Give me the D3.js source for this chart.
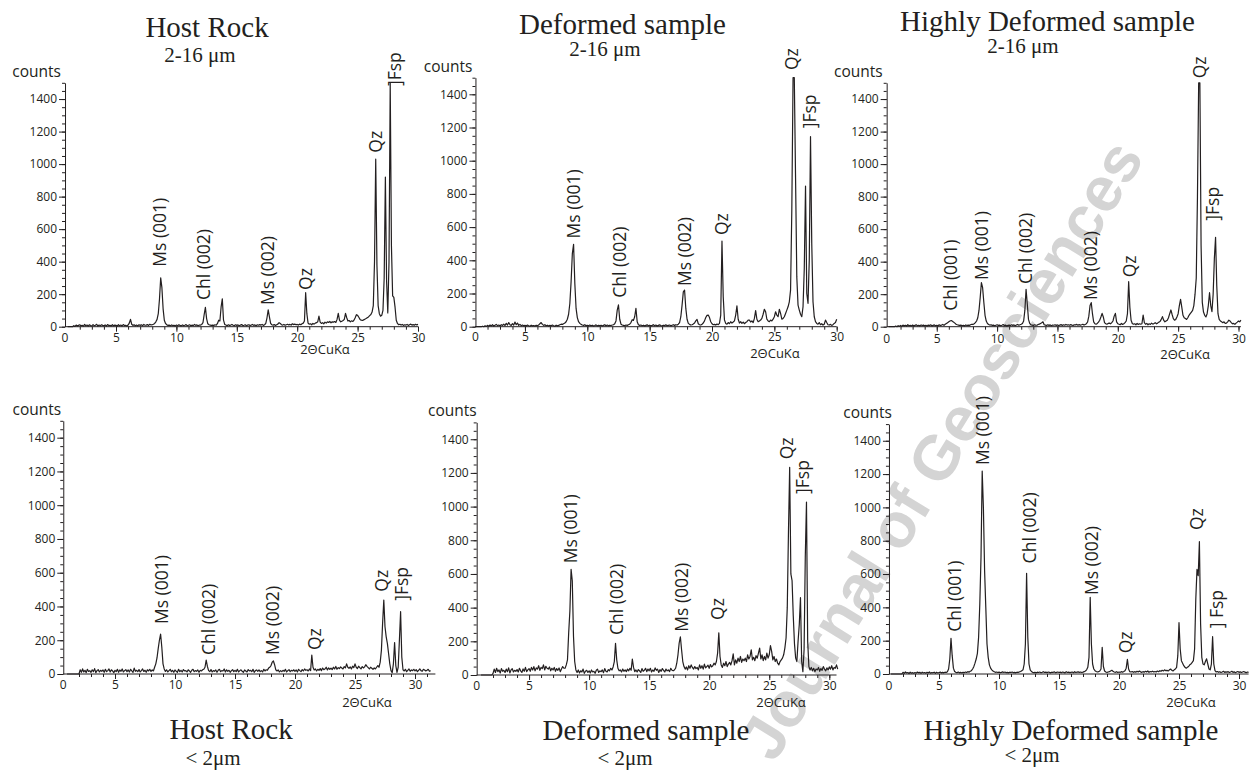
<!DOCTYPE html>
<html>
<head>
<meta charset="utf-8">
<script src="https://cdn.jsdelivr.net/npm/d3@7"></script>
<style>
  body { margin: 0; background: #fff; }
  svg text { fill: #231f20; }
</style>
</head>
<body>
<svg id="chart" width="1249" height="776"></svg>
<script>
// step scan: counts every 0.1 deg 2theta, starting at 1.0
const THETA_START = 1.0;
const THETA_STEP = 0.1;

// Host rock, 2-16 um
const hostCoarse = [
  0,0,0,0,0,6,2,10,4,8,
  12,5,9,3,14,6,10,4,12,7,
  5,13,6,9,15,4,10,6,12,8,
  6,11,4,13,7,9,5,12,6,10,
  8,4,12,6,10,5,13,7,9,4,
  10,22,45,15,8,12,6,10,5,12,
  8,12,6,14,9,10,13,8,15,11,
  12,15,20,30,45,80,170,300,240,110,
  40,20,12,8,10,6,11,7,9,5,
  10,6,12,8,5,11,7,9,13,6,
  9,12,5,10,7,14,8,11,6,10,
  10,14,25,75,119,50,18,12,10,8,
  10,8,12,9,20,40,35,120,172,40,
  14,10,6,12,8,10,14,9,7,12,
  8,11,6,10,13,7,9,12,6,10,
  12,7,10,14,8,11,6,12,9,13,
  10,14,8,12,20,55,103,60,20,12,
  10,13,8,12,16,25,20,12,10,14,
  9,12,15,11,14,10,18,13,16,12,
  14,10,16,12,18,22,35,209,80,22,
  15,18,12,20,16,22,25,30,65,28,
  20,25,18,28,22,30,26,32,24,30,
  28,32,26,45,82,40,30,34,38,45,
  82,55,35,38,30,36,32,40,55,74,
  70,58,45,40,38,42,46,50,55,60,
  68,75,90,130,400,1030,380,130,80,65,
  70,100,300,920,280,85,400,1500,500,190,
  180,120,40,20,12,15,10,14,8,12,
  10,14,8,12,16,10,13,9,15,11,
  14
];

// Deformed sample, 2-16 um
const deformedCoarse = [
  0,0,0,0,0,0,3,0,5,2,
  8,3,10,5,12,4,9,14,6,10,
  5,12,8,15,7,20,10,25,12,8,
  18,10,28,12,22,8,14,6,10,5,
  8,4,10,6,3,9,5,7,4,8,
  6,10,18,25,14,8,12,6,9,4,
  8,5,10,6,3,9,5,8,12,15,
  14,18,22,30,45,75,140,270,440,496,
  260,110,55,30,20,14,10,8,12,6,
  8,5,10,6,9,4,7,11,5,8,
  6,9,4,8,12,6,10,5,9,7,
  10,12,18,35,100,131,45,15,10,8,
  6,10,8,12,15,25,42,38,60,111,
  30,12,8,10,6,9,5,8,11,6,
  9,5,8,12,6,10,4,8,11,7,
  5,9,7,11,6,8,10,5,9,12,
  8,12,10,15,25,60,130,210,221,110,
  45,20,14,10,12,16,22,35,44,18,
  12,10,15,22,35,55,68,70,55,30,
  18,12,14,10,16,12,20,70,516,180,
  40,20,15,25,18,30,22,28,35,70,
  125,45,22,30,20,28,18,25,30,40,
  40,28,35,25,50,97,45,30,35,40,
  50,75,105,90,45,35,30,40,35,45,
  60,90,70,60,105,80,45,50,60,80,
  100,120,150,220,700,1500,1500,900,300,130,
  100,75,60,120,350,847,200,141,400,1145,
  500,150,60,30,20,15,25,12,18,10,
  15,40,25,12,10,14,8,12,20,25,
  45
];

// Highly deformed sample, 2-16 um
const highlyCoarse = [
  0,0,0,0,0,0,4,0,6,2,
  8,3,10,5,9,4,12,6,8,5,
  10,4,8,12,6,9,5,11,7,10,
  6,9,4,10,7,12,5,8,11,6,
  9,5,12,7,10,14,8,15,20,25,
  30,35,38,33,28,22,15,12,10,8,
  10,6,9,5,11,7,10,8,12,15,
  14,18,25,35,55,100,180,271,240,150,
  70,35,20,14,10,12,8,10,6,9,
  12,8,10,6,9,13,7,10,5,8,
  10,7,12,8,11,6,10,14,9,12,
  15,20,35,100,230,140,45,20,12,10,
  8,12,10,9,14,16,20,24,30,12,
  10,7,12,8,11,6,10,9,12,8,
  11,7,10,13,8,12,9,14,10,12,
  9,13,10,8,12,11,14,9,13,10,
  12,15,10,14,18,30,65,130,148,80,
  30,18,15,20,28,40,60,82,60,25,
  18,15,20,22,18,25,35,65,82,30,
  18,15,12,20,14,18,25,35,80,277,
  120,40,20,15,18,12,20,14,18,15,
  18,72,25,15,20,12,18,14,22,16,
  20,25,18,22,28,32,45,62,40,30,
  35,40,55,80,103,75,50,40,45,60,
  80,130,168,120,70,55,50,45,55,70,
  80,90,100,130,200,300,800,1500,1500,500,
  150,90,70,60,80,130,209,130,92,200,
  420,550,250,80,45,35,30,25,30,20,
  22,30,40,35,25,18,20,15,22,28,
  35,30,40
];

// Host rock, < 2 um
const hostFine = [
  0,0,0,0,0,0,0,0,0,0,
  0,25,10,30,12,22,8,28,15,20,
  10,25,14,32,8,20,26,12,22,16,
  24,10,28,14,20,30,12,25,18,8,
  22,14,28,10,24,16,30,12,20,26,
  14,24,12,28,18,10,35,16,22,14,
  26,12,20,30,15,22,10,25,18,28,
  15,24,18,40,60,95,150,200,237,160,
  60,30,15,25,12,20,28,14,22,10,
  24,16,10,28,14,22,12,26,18,20,
  12,25,18,10,22,28,14,20,16,24,
  10,22,18,25,28,40,83,45,20,14,
  26,12,20,16,24,10,22,28,14,20,
  18,30,12,25,16,22,10,20,26,14,
  22,14,28,12,20,25,16,10,24,18,
  12,26,18,22,14,28,10,20,24,16,
  24,14,20,12,28,18,25,22,35,40,
  50,70,77,55,25,18,24,12,20,14,
  22,16,28,12,20,26,14,22,18,25,
  16,24,12,28,20,14,26,18,30,22,
  25,18,30,20,112,40,24,30,18,28,
  22,32,20,35,26,30,40,24,36,28,
  35,26,40,30,45,28,38,32,42,36,
  30,44,36,60,40,34,42,30,46,38,
  60,40,32,46,38,30,44,36,42,55,
  45,38,30,40,34,28,36,30,40,50,
  40,70,140,300,438,280,220,180,120,60,
  20,8,60,186,50,10,40,200,369,100,
  25,18,28,14,22,30,16,24,20,28,
  18,26,14,22,30,20,16,28,24,18,
  22,28,16,20
];

// Deformed sample, < 2 um
const deformedFine = [
  0,0,0,0,0,0,0,0,0,0,
  10,35,15,40,20,30,12,38,22,28,
  15,35,20,42,12,30,38,18,28,22,
  32,18,40,25,15,36,22,45,20,30,
  38,22,45,30,50,25,42,35,55,28,
  45,38,60,30,52,40,35,48,25,40,
  30,45,22,38,28,42,20,35,50,40,
  40,60,90,250,380,627,560,230,80,30,
  15,30,12,25,18,35,10,22,28,15,
  25,12,30,18,22,10,28,35,15,24,
  20,30,14,38,22,18,32,25,40,30,
  48,80,188,90,40,25,30,18,35,22,
  30,20,35,25,40,28,95,45,20,30,
  18,32,25,15,38,22,28,40,20,35,
  25,40,18,30,22,42,28,35,15,32,
  22,38,28,18,35,25,30,20,40,28,
  25,30,40,70,120,190,227,150,80,50,
  35,48,30,55,40,60,45,35,50,38,
  45,30,60,40,55,35,65,42,50,58,
  40,62,48,55,70,60,80,130,251,110,
  60,45,70,55,80,50,65,75,60,85,
  125,60,90,70,100,80,110,75,95,85,
  100,80,120,95,110,150,90,105,85,115,
  100,130,160,95,120,85,110,90,130,100,
  120,175,140,90,110,80,95,70,60,80,
  90,100,120,160,220,400,850,1233,600,560,
  350,186,100,80,200,300,459,80,20,150,
  700,1027,200,50,30,45,25,40,20,35,
  30,45,22,38,28,50,35,25,42,30,
  48,35,55,30,45,40,60,35
];

// Highly deformed sample, < 2 um
const highlyFine = [
  0,0,0,0,0,0,0,0,0,0,
  10,4,12,6,9,3,11,5,8,4,
  9,5,12,7,10,4,11,6,9,5,
  10,6,12,5,9,7,11,4,10,6,
  8,12,6,10,7,11,9,14,30,90,
  214,110,35,15,10,8,12,7,10,6,
  10,8,12,9,14,11,16,20,30,44,
  65,90,124,220,420,700,1218,1000,620,400,
  180,100,55,35,25,18,14,10,12,9,
  11,8,10,13,9,12,8,10,7,11,
  9,12,8,10,7,11,9,13,15,20,
  25,60,180,604,220,60,25,15,10,8,
  10,7,11,9,12,8,10,14,9,11,
  8,12,10,7,11,9,13,8,10,12,
  9,11,8,12,10,7,14,9,11,8,
  10,12,8,14,9,11,13,10,12,9,
  11,14,18,25,40,100,460,180,60,30,
  20,15,12,14,18,30,160,45,18,12,
  10,12,14,18,22,16,12,10,14,9,
  12,10,14,11,15,20,35,88,30,14,
  12,15,10,14,11,16,12,18,13,10,
  14,11,16,12,18,10,15,13,17,12,
  15,12,18,14,20,16,22,18,25,20,
  22,18,25,30,22,18,25,30,40,110,
  308,150,80,65,50,40,35,40,45,55,
  60,70,80,150,450,628,590,794,300,100,
  60,55,75,91,60,30,25,60,224,60,
  20,12,15,10,14,9,12,16,10,13,
  11,14,9,12,16,10,13,8,12,15,
  10,13,9,12,15,11,8,12,10
];

// peak labels: [text, 2theta at label centre, counts where the label starts]
const hostCoarseLabels = [
  ["Ms (001)", 8.64, 369], ["Chl (002)", 12.28, 164], ["Ms (002)", 17.61, 133],
  ["Qz", 20.73, 226], ["Qz", 26.52, 1070], ["]Fsp", 28.1, 1480]
];
const deformedCoarseLabels = [
  ["Ms (001)", 8.96, 532], ["Chl (002)", 12.62, 175], ["Ms (002)", 17.83, 245],
  ["Qz", 20.83, 552], ["Qz", 26.39, 1546], ["]Fsp", 27.86, 1195]
];
const highlyCoarseLabels = [
  ["Chl (001)", 6.18, 98], ["Ms (001)", 8.72, 287], ["Chl (002)", 12.37, 263],
  ["Ms (002)", 17.75, 164], ["Qz", 21.01, 304], ["Qz", 26.81, 1528], ["]Fsp", 27.86, 652]
];
const hostFineLabels = [
  ["Ms (001)", 8.89, 296], ["Chl (002)", 12.86, 113], ["Ms (002)", 18.19, 113],
  ["Qz", 21.67, 142], ["Qz", 27.22, 488], ["]Fsp", 28.89, 434]
];
const deformedFineLabels = [
  ["Ms (001)", 8.47, 663], ["Chl (002)", 12.35, 238], ["Ms (002)", 17.71, 257],
  ["Qz", 20.76, 327], ["Qz", 26.5, 1281], ["]Fsp", 27.84, 1075]
];
const highlyFineLabels = [
  ["Chl (001)", 6.33, 254], ["Ms (001)", 8.69, 1254], ["Chl (002)", 12.58, 664],
  ["Ms (002)", 17.72, 474], ["Qz", 20.56, 124], ["Qz", 26.53, 864], ["] Fsp", 28.19, 274]
];

const yTickLabels = [0, 200, 400, 600, 800, 1000, 1200, 1400];
const xTickLabels = [5, 10, 15, 20, 25, 30];

const panels = [
  { counts: hostCoarse, labels: hostCoarseLabels, title: "Host Rock", sub: "2-16 μm",
    x0: 55.6, kx: 12.08, y0: 326.7, ky: 0.1626, axisStart: 0.78, xEnd: 30, tickDy: 15,
    countsDx: -4, xLab: [22.3, 27.5], titlePos: [207, 37.3], subPos: [200, 61.7] },
  { counts: deformedCoarse, labels: deformedCoarseLabels, title: "Deformed sample", sub: "2-16 μm",
    x0: 462.6, kx: 12.47, y0: 326.7, ky: 0.166, axisStart: 1.03, xEnd: 30, tickDy: 14,
    countsDx: -3, xLab: [25.05, 31], titlePos: [622.5, 34], subPos: [605, 56] },
  { counts: highlyCoarse, labels: highlyCoarseLabels, title: "Highly Deformed sample", sub: "2-16 μm",
    x0: 876.4, kx: 12.07, y0: 326.7, ky: 0.1626, axisStart: 0.85, xEnd: 30.2, tickDy: 16,
    countsDx: -4, xLab: [25.57, 32], titlePos: [1047.5, 30.7], subPos: [1023, 53.3] },
  { counts: hostFine, labels: hostFineLabels, title: "Host Rock", sub: "< 2μm",
    x0: 55, kx: 12.0, y0: 674, ky: 0.1688, axisStart: 0.69, xEnd: 31.7, tickDy: 15,
    countsDx: -2, xLab: [26.0, 33], titlePos: [231, 739.3], subPos: [213, 765] },
  { counts: deformedFine, labels: deformedFineLabels, title: "Deformed sample", sub: "< 2μm",
    x0: 469, kx: 12.01, y0: 675, ky: 0.1684, axisStart: 0.64, xEnd: 30.6, tickDy: 15,
    countsDx: 0, xLab: [25.98, 32], titlePos: [646, 740], subPos: [625, 765] },
  { counts: highlyFine, labels: highlyFineLabels, title: "Highly Deformed sample", sub: "< 2μm",
    x0: 879, kx: 12.0, y0: 674, ky: 0.1666, axisStart: 0.83, xEnd: 30.8, tickDy: 16,
    countsDx: 3, xLab: [26.0, 32.5], titlePos: [1071, 740], subPos: [1032, 762] }
];

const INK = "#231f20";
const SANS = "'Open Sans', 'Noto Sans', sans-serif";
const SERIF = "'Liberation Serif', 'Times New Roman', serif";

const svg = d3.select("#chart");

// journal watermark, behind everything
svg.append("text")
  .attr("transform", "translate(774,764) rotate(-58.5)")
  .style("font-family", "'Liberation Sans', Arial, sans-serif")
  .style("font-weight", "bold")
  .style("font-size", "63px")
  .style("fill", "#d4d4d4")
  .text("Journal of Geosciences");

function drawPanel(p) {
  const x = d3.scaleLinear().domain([0, 30]).range([p.x0, p.x0 + 30 * p.kx]);
  const y = d3.scaleLinear().domain([0, 1500]).range([p.y0, p.y0 - 1500 * p.ky]);
  const ax = x(p.axisStart);
  const g = svg.append("g");

  // y axis: minor every 50, labelled every 200
  g.append("g")
    .attr("transform", `translate(${ax},0)`)
    .call(d3.axisLeft(y).tickValues(d3.range(0, 1501, 50)).tickSize(3).tickSizeOuter(0).tickFormat(""));
  const yAx = g.append("g")
    .attr("transform", `translate(${ax},0)`)
    .call(d3.axisLeft(y).tickValues(yTickLabels).tickSize(6).tickSizeOuter(0).tickPadding(2)
      .tickFormat(d3.format("d")));
  yAx.select(".domain").remove();

  // x axis
  const minor = d3.range(1, Math.floor(p.xEnd) + 1).filter(v => x(v) > ax + 5);
  const xMin = g.append("g")
    .attr("transform", `translate(0,${p.y0})`)
    .call(d3.axisBottom(x).tickValues(minor).tickSize(3).tickFormat(""));
  xMin.select(".domain").remove();
  const xAx = g.append("g")
    .attr("transform", `translate(0,${p.y0})`)
    .call(d3.axisBottom(x).tickValues(xTickLabels).tickSize(5).tickFormat(d3.format("d")));
  xAx.select(".domain").remove();
  xAx.selectAll("text").attr("dy", null).attr("y", p.tickDy);

  g.append("line")
    .attr("x1", ax).attr("x2", x(p.xEnd))
    .attr("y1", p.y0).attr("y2", p.y0);

  g.append("text")
    .attr("x", ax).attr("y", p.y0 + p.tickDy)
    .attr("text-anchor", "middle")
    .text("0");

  g.selectAll("line, path").attr("stroke", INK).attr("stroke-width", 1);
  g.selectAll("text").style("font-family", SANS).style("font-size", "12px").attr("fill", INK);

  g.append("text")
    .attr("x", ax + p.countsDx).attr("y", y(1500) - 6)
    .attr("text-anchor", "end")
    .style("font-family", SANS).style("font-size", "15.5px")
    .text("counts");

  g.append("text")
    .attr("x", x(p.xLab[0])).attr("y", p.y0 + p.xLab[1])
    .attr("text-anchor", "middle")
    .style("font-family", SANS).style("font-size", "13px")
    .text("2ΘCuKα");

  // diffractogram
  const line = d3.line()
    .x((c, i) => x(THETA_START + i * THETA_STEP))
    .y(c => y(c));
  g.append("path")
    .datum(p.counts)
    .attr("d", line)
    .attr("fill", "none")
    .attr("stroke", INK)
    .attr("stroke-width", 1.2)
    .attr("stroke-linejoin", "round");

  // peak labels
  g.selectAll(".peak")
    .data(p.labels)
    .join("text")
    .attr("class", "peak")
    .attr("transform", d => `translate(${x(d[1])},${y(d[2])}) rotate(-90)`)
    .attr("dy", "0.35em")
    .style("font-family", SANS)
    .style("font-size", "17.5px")
    .text(d => d[0]);

  // titles
  g.append("text")
    .attr("x", p.titlePos[0]).attr("y", p.titlePos[1])
    .attr("text-anchor", "middle")
    .style("font-family", SERIF).style("font-size", "29px")
    .text(p.title);
  g.append("text")
    .attr("x", p.subPos[0]).attr("y", p.subPos[1])
    .attr("text-anchor", "middle")
    .style("font-family", SERIF).style("font-size", "21px")
    .text(p.sub);
}

panels.forEach(drawPanel);
</script>
</body>
</html>
